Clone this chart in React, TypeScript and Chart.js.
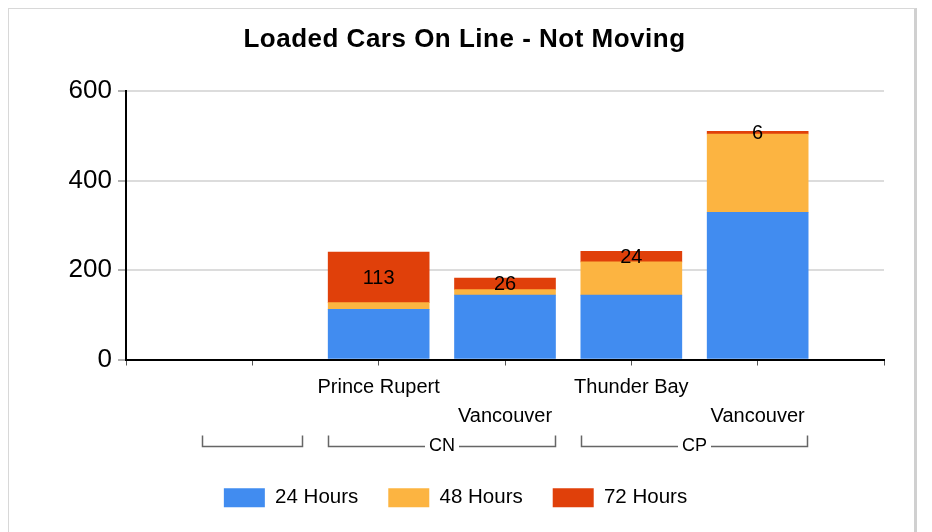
import React, { useEffect, useRef } from "react";
import { Chart, registerables } from "chart.js";

Chart.register(...registerables);

const FONT = "'Liberation Sans', Arial, sans-serif";

const chartTitle = "Loaded Cars On Line - Not Moving";
const categories = ["", "Prince Rupert", "Vancouver", "Thunder Bay", "Vancouver"];
const groups = ["", "CN", "CN", "CP", "CP"];
const labelRows = [0, 0, 1, 0, 1];
const seriesNames = ["24 Hours", "48 Hours", "72 Hours"];
const hours24 = [null, 112, 144, 144, 329];
const hours48 = [null, 15, 12, 74, 175];
const hours72 = [null, 113, 26, 24, 6];
const seriesColors = ["#418CF0", "#FCB441", "#E0400A"];
const yTickValues = [0, 200, 400, 600];

const BAR_THICKNESS = 101;

// Category axis: empty slot at each end so ticks fall on the axis ends.
const axisLabels: (string | string[])[] = [
  "",
  ...categories.map((c, i) => (labelRows[i] ? ["", c] : c)),
  "",
];
const pad = (arr: (number | null)[]) => [null, ...arr, null];

const titlePlugin = {
  id: "customTitle",
  afterDraw(chart: any) {
    const { ctx } = chart;
    ctx.save();
    ctx.font = `bold 26px ${FONT}`;
    (ctx as any).letterSpacing = "0.5px";
    ctx.fillStyle = "#000";
    ctx.textAlign = "center";
    ctx.textBaseline = "alphabetic";
    ctx.fillText(chartTitle, chart.width / 2 + 3, 38);
    ctx.restore();
  },
};

const groupPlugin = {
  id: "groupBrackets",
  afterDraw(chart: any) {
    const { ctx, chartArea } = chart;
    const x = chart.scales.x;
    const top = chartArea.bottom + 76;
    const bottom = chartArea.bottom + 87;
    ctx.save();
    ctx.strokeStyle = "#666";
    ctx.lineWidth = 1.5;
    ctx.font = `18px ${FONT}`;
    ctx.fillStyle = "#000";
    ctx.textAlign = "center";
    ctx.textBaseline = "middle";
    let i = 0;
    while (i < groups.length) {
      let j = i;
      while (j + 1 < groups.length && groups[j + 1] === groups[i]) j++;
      const left = Math.round(x.getPixelForValue(i + 1) - BAR_THICKNESS / 2) + 0.5;
      const right = Math.round(x.getPixelForValue(j + 1) + BAR_THICKNESS / 2) - 0.5;
      const name = groups[i];
      ctx.beginPath();
      ctx.moveTo(left, top);
      ctx.lineTo(left, bottom);
      if (name) {
        const mid = (left + right) / 2;
        const w = ctx.measureText(name).width;
        ctx.lineTo(mid - w / 2 - 4, bottom);
        ctx.moveTo(mid + w / 2 + 4, bottom);
        ctx.fillText(name, mid, bottom);
      }
      ctx.lineTo(right, bottom);
      ctx.lineTo(right, top);
      ctx.stroke();
      i = j + 1;
    }
    ctx.restore();
  },
};

const valueLabelPlugin = {
  id: "valueLabels",
  afterDatasetsDraw(chart: any) {
    const { ctx } = chart;
    const meta = chart.getDatasetMeta(2);
    ctx.save();
    ctx.font = `20px ${FONT}`;
    ctx.fillStyle = "#000";
    ctx.textAlign = "center";
    ctx.textBaseline = "middle";
    meta.data.forEach((el: any, idx: number) => {
      const v = chart.data.datasets[2].data[idx];
      if (v == null) return;
      ctx.fillText(String(v), el.x, (el.y + el.base) / 2 + 1);
    });
    ctx.restore();
  },
};

export default function App() {
  const canvasRef = useRef<HTMLCanvasElement | null>(null);

  useEffect(() => {
    document.documentElement.style.overflow = "hidden";
    document.body.style.overflow = "hidden";
    if (!canvasRef.current) return;
    Chart.defaults.font.family = FONT;
    const seriesData = [hours24, hours48, hours72];
    const chart = new Chart(canvasRef.current, {
      type: "bar",
      data: {
        labels: axisLabels,
        datasets: seriesNames.map((name, k) => ({
          label: name,
          data: pad(seriesData[k]),
          backgroundColor: seriesColors[k],
          borderWidth: 0,
          barThickness: BAR_THICKNESS,
          stack: "s",
        })),
      },
      options: {
        animation: false,
        responsive: true,
        maintainAspectRatio: false,
        events: [],
        layout: { padding: { top: 82, left: 18, right: 30, bottom: 14 } },
        plugins: {
          title: { display: false },
          tooltip: { enabled: false },
          legend: {
            position: "bottom",
            labels: {
              boxWidth: 41,
              boxHeight: 19,
              padding: 30,
              color: "#000",
              font: { size: 20.5, family: FONT },
            },
          },
        },
        scales: {
          x: {
            stacked: true,
            offset: false,
            z: 1,
            grid: {
              offset: false,
              drawOnChartArea: false,
              drawTicks: true,
              tickLength: 6,
              tickColor: "#555",
              tickWidth: 1,
            },
            border: { display: true, color: "#000", width: 2 },
            ticks: {
              autoSkip: false,
              maxRotation: 0,
              minRotation: 0,
              padding: 7,
              color: "#000",
              font: { size: 20, family: FONT, lineHeight: 1.45 },
            },
            afterFit(scale: any) {
              scale.height = 98;
            },
          },
          y: {
            stacked: true,
            min: 0,
            max: 600,
            afterBuildTicks(scale: any) {
              scale.ticks = yTickValues.map((v) => ({ value: v }));
            },
            grid: {
              color: "#dcdcdc",
              lineWidth: 2,
              tickLength: 8,
              tickColor: "#999",
              tickWidth: 1.5,
            },
            border: { display: true, color: "#000", width: 2 },
            ticks: {
              padding: 6,
              color: "#000",
              font: { size: 26, family: FONT },
            },
            afterFit(scale: any) {
              scale.width = 99;
            },
          },
        },
      },
      plugins: [titlePlugin, groupPlugin, valueLabelPlugin],
    });
    return () => chart.destroy();
  }, []);

  return (
    <div
      style={{
        width: 905,
        height: 523,
        position: "relative",
        background: "#fff",
        borderTop: "1px solid #d8d8d8",
        borderLeft: "1px solid #d8d8d8",
        borderRight: "3px solid #d0d0d0",
      }}
    >
      <canvas ref={canvasRef} style={{ display: "block" }} />
    </div>
  );
}
